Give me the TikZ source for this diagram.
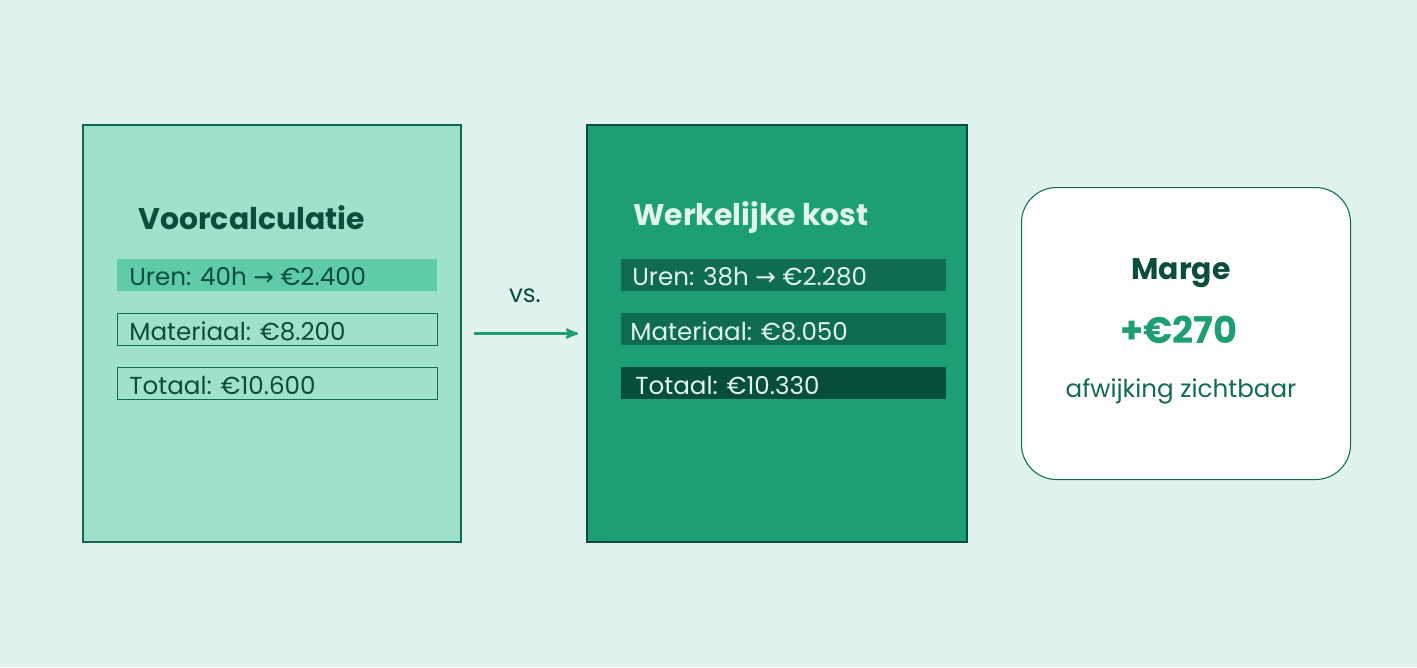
\documentclass[tikz,border=0pt]{standalone}
\usepackage{fontspec}
\setmainfont{Poppins}
\newfontfamily\symfont{DejaVu Sans}
\usetikzlibrary{positioning}
\usetikzlibrary{arrows}
\definecolor{bgmint}{HTML}{E1F3EE}
\definecolor{lightbox}{HTML}{A0E1CB}
\definecolor{lightrow}{HTML}{5FCBA8}
\definecolor{midgreen}{HTML}{1D9E74}
\definecolor{darkrow}{HTML}{106B53}
\definecolor{darkerrow}{HTML}{074D3B}
\definecolor{darktext}{HTML}{0B4D3C}
\definecolor{palett}{HTML}{E0F5EE}
\newcommand{\arr}{{\symfont\char"2192}}
\begin{document}
\begin{tikzpicture}[x=0.02cm,y=-0.02cm,font=\fontsize{14}{16}\selectfont]
	\tikzset{
		panel/.style={minimum width=378*0.02cm,minimum height=417*0.02cm,outer sep=0pt,inner sep=0pt,draw=darkrow,semithick},
		row/.style={minimum width=320*0.02cm,minimum height=32*0.02cm,outer sep=0pt,inner sep=0pt,anchor=west},
		rowtext/.style={anchor=west,inner sep=0pt},
		title/.style={anchor=west,inner sep=0pt,font=\fontsize{17}{20}\selectfont\bfseries}
	}
	\fill [bgmint] (0,0) rectangle (1417,667);

	\node [panel,fill=lightbox,anchor=north west] at (83,125) (voor) {};
	\node [title,text=darktext] at (138,218) (voor_title) {Voorcalculatie};
	\node [row,fill=lightrow] at (117,275) (voor_uren) {};
	\node [row,draw=darkrow,thin] at (117,329) (voor_mat) {};
	\node [row,draw=darkrow,thin] at (117,383) (voor_tot) {};
	\node [rowtext,text=darktext] at (129,277) (voor_uren_t) {Uren: 40h \arr{} €2.400};
	\node [rowtext,text=darktext] at (129,331) (voor_mat_t) {Materiaal: €8.200};
	\node [rowtext,text=darktext] at (129,385) (voor_tot_t) {Totaal: €10.600};

	\node [panel,fill=midgreen,draw=darktext,anchor=north west,minimum width=380*0.02cm] at (587,125) (werk) {};
	\node [title,text=palett] at (633,218) (werk_title) {Werkelijke kost};
	\node [row,fill=darkrow,minimum width=325*0.02cm] at (621,275) (werk_uren) {};
	\node [row,fill=darkrow,minimum width=325*0.02cm] at (621,329) (werk_mat) {};
	\node [row,fill=darkerrow,minimum width=325*0.02cm] at (621,383) (werk_tot) {};
	\node [rowtext,text=palett] at (632,277) (werk_uren_t) {Uren: 38h \arr{} €2.280};
	\node [rowtext,text=palett] at (630,331) (werk_mat_t) {Materiaal: €8.050};
	\node [rowtext,text=palett] at (635,385) (werk_tot_t) {Totaal: €10.330};

	\node [text=darktext,inner sep=0pt] at (525,296) (vs) {vs.};
	\draw [->,>=stealth',midgreen,line width=1.4pt,shorten <=13*0.02cm,shorten >=9*0.02cm] (voor) -- (werk);

	\node [draw=darkrow,semithick,fill=white,rounded corners=0.7cm,minimum width=329*0.02cm,minimum height=292*0.02cm,anchor=north west] at (1021,187) (marge) {};
	\node [text=darktext,font=\fontsize{17}{20}\selectfont\bfseries,inner sep=0pt] at (1181,273) (marge_t) {Marge};
	\node [text=midgreen,font=\fontsize{21}{24}\selectfont\bfseries,inner sep=0pt] at (1179,330) (marge_val) {+€270};
	\node [text=darkrow,inner sep=0pt] at (1181,391) (marge_sub) {afwijking zichtbaar};
\end{tikzpicture}
\end{document}
